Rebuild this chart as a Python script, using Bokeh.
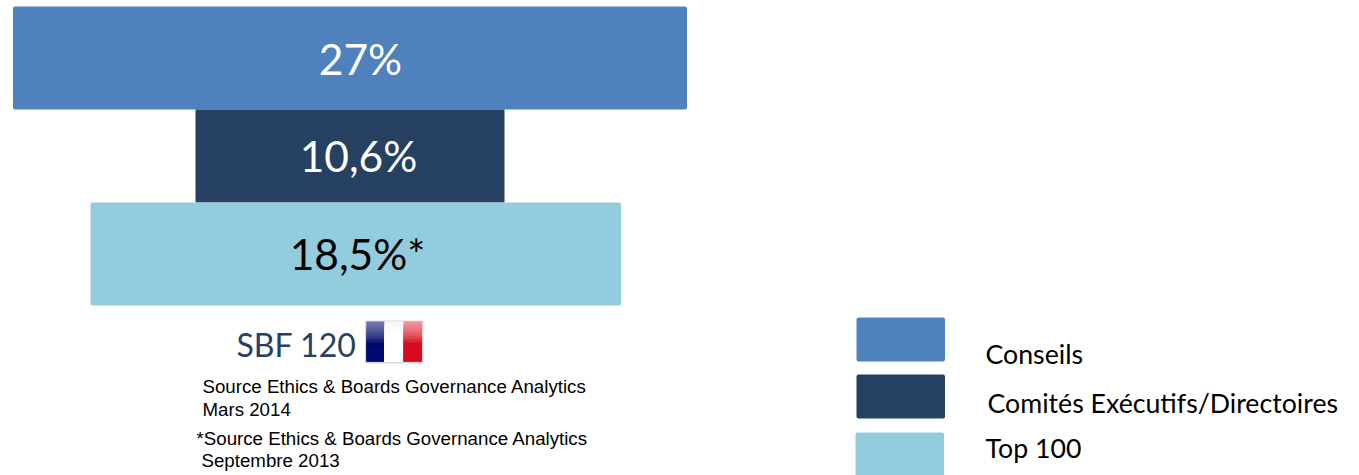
from bokeh.plotting import figure
from bokeh.models import Range1d
from bokeh.core.properties import value
from bokeh.embed import file_html
from bokeh.resources import INLINE

# Stacked bands (diagram: widths as read from the picture, not proportional to the share)
band_labels = ["27%", "10,6%", "18,5%*"]
band_left = [13.5, 196, 91]
band_right = [687.5, 505, 621.5]
band_top = [7, 110, 203]
band_bottom = [110, 203, 306]
band_colors = ["#4f81bd", "#254061", "#93cddd"]
band_text_colors = ["#ffffff", "#ffffff", "#000000"]
band_radius = [2, 0, 2]
band_text_x = [361, 359, 358]
band_text_y = [59, 156, 254]

legend_labels = ["Conseils", "Comités Exécutifs/Directoires", "Top 100"]
legend_left = [857, 857, 856]
legend_right = [945.5, 945.5, 944.5]
legend_top = [318, 375, 433]
legend_bottom = [362, 419, 477]
legend_text_x = [986, 988, 986]
legend_text_y = [354, 403, 448]

notes = ["Source Ethics & Boards Governance Analytics", "Mars 2014",
         "*Source Ethics & Boards Governance Analytics", "Septembre 2013"]
notes_x = [203, 203, 197, 202]
notes_y = [387, 410, 439, 461]

flag_left = [367, 385, 404]
flag_right = [385, 404, 422.5]
flag_rows_top = [322, 325, 328, 331, 334, 337, 340, 343]
flag_blue = ["#7074ae", "#666aa7", "#5a5fa0", "#4d5298", "#3d438d", "#2b3182", "#141b75", "#000a6e"]
flag_white = ["#f8f8f8", "#fafafa", "#fcfcfc", "#fdfdfd", "#fefefe", "#ffffff", "#ffffff", "#ffffff"]
flag_red = ["#ee9097", "#ec838b", "#ea767e", "#e76770", "#e4555f", "#e0404c", "#dc2433", "#d60a1f"]

p = figure(width=1359, height=475, x_range=Range1d(1, 1360), y_range=Range1d(476, 1),
           output_backend="svg", toolbar_location=None, min_border=0,
           background_fill_color="#ffffff", border_fill_color="#ffffff")
p.axis.visible = False
p.grid.visible = False
p.outline_line_color = None

for i in range(3):
    p.quad(left=band_left[i], right=band_right[i], top=band_top[i], bottom=band_bottom[i],
           fill_color=band_colors[i], line_color=None, border_radius=band_radius[i])
    p.text(x=[band_text_x[i]], y=[band_text_y[i]], text=[band_labels[i]], text_color=band_text_colors[i],
           text_font=value("Lato"), text_font_size="42.5px", text_align="center", text_baseline="middle")
    p.quad(left=legend_left[i], right=legend_right[i], top=legend_top[i], bottom=legend_bottom[i],
           fill_color=band_colors[i], line_color=None, border_radius=2)
    p.text(x=[legend_text_x[i]], y=[legend_text_y[i]], text=[legend_labels[i]], text_color="#000000",
           text_font=value("Lato"), text_font_size="26.7px", text_align="left", text_baseline="middle")

p.text(x=[237], y=[345], text=["SBF 120"], text_color="#254061", text_font=value("Lato"),
       text_font_size="32px", text_align="left", text_baseline="middle")

p.quad(left=365.5, right=424, top=321, bottom=364, fill_color="#d9d9d9", line_color=None)
for col, l, r in zip((flag_blue, flag_white, flag_red), flag_left, flag_right):
    for c, t in zip(col, flag_rows_top):
        p.quad(left=l, right=r, top=t, bottom=362, fill_color=c, line_color=None)

p.text(x=notes_x, y=notes_y, text=notes, text_color="#000000", text_font=value("Liberation Sans"),
       text_font_size="18.7px", text_align="left", text_baseline="middle")

open("out.html", "w").write(file_html(p, INLINE))
